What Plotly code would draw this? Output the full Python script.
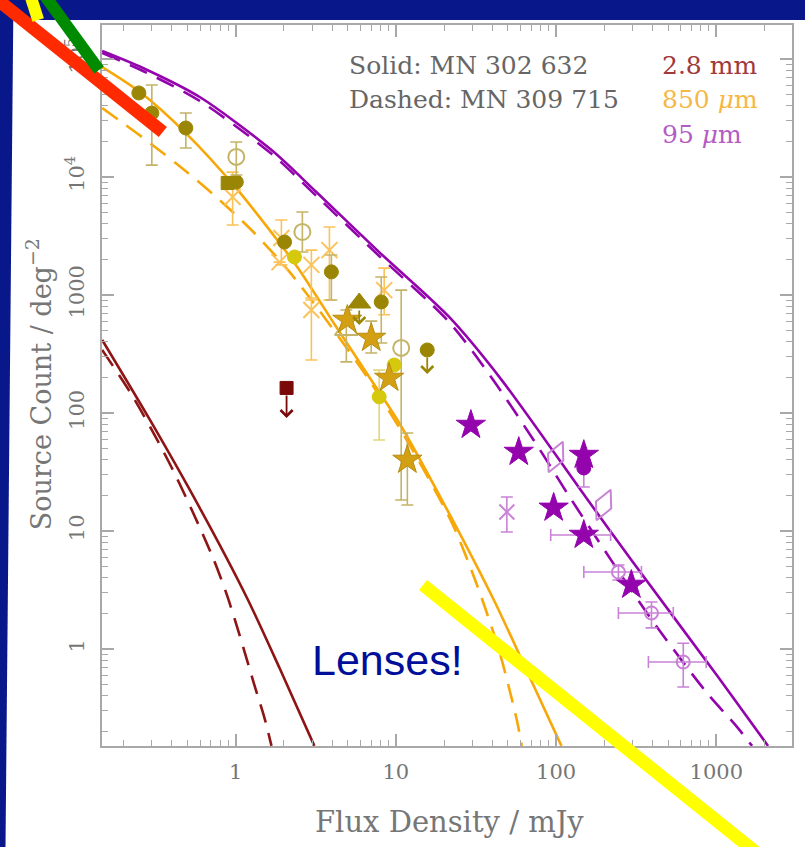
import math
import plotly.graph_objects as go

# ---------------- model counts: flux density (mJy) vs N(>S) (deg^-2) ----------------
flux_95_solid = [0.147, 0.264, 0.597, 1.675, 3.19, 7.87, 21.5, 45.8, 153, 295, 1027, 2104]
count_95_solid = [117000, 83900, 47600, 16900, 7460, 2310, 651, 190, 19.4, 5.68, 0.579, 0.151]
flux_95_dashed = [0.147, 0.264, 0.597, 1.675, 3.19, 7.87, 21.5, 39.7, 78.0, 125, 377, 865, 1330, 1672]
count_95_dashed = [112400, 79100, 44100, 15700, 6900, 2140, 590, 198, 50.5, 18.3, 1.94, 0.432, 0.223, 0.151]

flux_850_solid = [0.147, 0.253, 0.496, 0.958, 1.88, 2.50, 4.25, 6.82, 10.5, 19.4, 40.9, 67.5, 108]
count_850_solid = [85500, 52500, 23100, 8730, 2760, 1630, 535, 202, 82.3, 18.3, 2.60, 0.602, 0.151]
flux_850_dashed = [0.147, 0.198, 0.292, 0.496, 0.795, 1.31, 2.17, 3.84, 6.82, 12.1, 22.4, 32.1, 44.0, 56.9, 61.1]
count_850_dashed = [38400, 28700, 19400, 11000, 6380, 3350, 1570, 568, 190, 54.6, 11.7, 3.49, 0.981, 0.250, 0.151]

flux_28_solid = [0.147, 0.292, 0.597, 1.17, 1.88, 3.10]
count_28_solid = [416, 87.3, 15.7, 2.76, 0.690, 0.151]
flux_28_dashed = [0.147, 0.219, 0.305, 0.406, 0.540, 0.719, 0.879, 1.059, 1.31, 1.515, 1.675]
count_28_dashed = [342, 151, 69.0, 32.9, 14.5, 6.02, 2.92, 1.31, 0.495, 0.260, 0.151]

# ---------------- measured counts ----------------
# 850 um, olive filled circles
olive_flux = [0.249, 0.30, 0.489, 1.01, 2.02, 3.96, 8.11]
olive_count = [51500, 34800, 26000, 9070, 2810, 1570, 873]
olive_hi = [None, 60200, 34800, None, None, 2180, 1420]
olive_lo = [None, 12600, 17600, None, None, 908, 392]

# 850 um, olive filled square
square_flux = [0.892]
square_count = [8890]

# 850 um, olive open circles
ring_flux = [1.01, 2.61, 10.8]
ring_count = [14800, 3420, 356]
ring_hi = [19800, 5050, 1100]
ring_lo = [10400, 2310, 18.3]

# 850 um, open triangle
otri_flux = [4.91]
otri_count = [505]
otri_hi = [746]
otri_lo = [271]

# 850 um, yellow filled circles
yellow_flux = [2.33, 9.76, 7.87]
yellow_count = [2100, 255, 137]
yellow_hi = [None, None, 231]
yellow_lo = [None, None, 59]

# 850 um, gold stars
gold_flux = [4.98, 7.02, 9.08, 11.8]
gold_count = [614, 432, 198, 40]
gold_hi = [None, 600, None, 67.7]
gold_lo = [None, 322, None, 16.6]

# 850 um, orange crosses
cross_flux = [0.958, 1.93, 1.88, 2.97, 3.85, 2.97, 8.46]
cross_count = [6770, 3040, 1900, 1800, 2400, 746, 1100]
cross_hi = [11000, 4320, None, 2400, 3770, 944, 1690]
cross_lo = [3920, 1800, None, 908, 908, 281, 680]

# upper limits
ulim_olive_flux = [15.7]
ulim_olive_count = [342]
ulim_tri_flux = [5.91]
ulim_tri_count = [855]
ulim_28_flux = [2.08]
ulim_28_count = [163]

# 95 um points
p_star_flux = [29.4, 58.5, 149, 96.6, 149, 295]
p_star_count = [79.1, 46.7, 44.0, 15.7, 9.25, 3.49]
p_star_xhi = [None, None, None, None, 219, None]
p_star_xlo = [None, None, None, None, 92.6, None]

p_dot_flux = [149]
p_dot_count = [34.2]
p_dot_hi = [44.0]
p_dot_lo = [23.6]

p_diamond_flux = [99.5, 198]
p_diamond_count = [42.4, 16.6]

p_cross_flux = [49.3]
p_cross_count = [14.5]
p_cross_hi = [19.4]
p_cross_lo = [9.8]

p_ring_flux = [245, 394, 622]
p_ring_count = [4.49, 2.02, 0.776]
p_ring_hi = [5.15, 2.50, 1.12]
p_ring_lo = [3.84, 1.51, 0.477]
p_ring_xhi = [341, 539, 865]
p_ring_xlo = [149, 245, 377]

# axis ticks
x_tick_vals = [1, 10, 100, 1000]
x_tick_text = ["1", "10", "100", "1000"]
y_tick_vals = [1, 10, 100, 1000, 1e4, 1e5]
y_tick_text = ["1", "10", "100", "1000", "10<sup>4</sup>", "10<sup>5</sup>"]

# ---------------- styles ----------------
PURPLE = "#9404ad"
PURPLE_LIGHT = "#c983d6"
ORANGE = "#f7a808"
ORANGE_LIGHT = "#fcc25a"
DARKRED = "#8e1515"
OLIVE = "#9a8604"
OLIVE_LIGHT = "#c4b468"
YELLOW = "#d6c80c"
GOLD = "#d2a012"
NAVY = "#08188a"
SERIF = "DejaVu Serif, Liberation Serif, serif"
GREY = "#767676"
DASH = "19px,11px"

# plot frame in page pixels
L, R, T, B = 102, 794, 25, 746
W, H = 805, 847


def px(x):
    return (x - L) / (R - L)


def py(y):
    return (B - y) / (B - T)


def up_down(vals, hi, lo):
    up = [None if h is None else h - v for v, h in zip(vals, hi)]
    dn = [None if l is None else v - l for v, l in zip(vals, lo)]
    return up, dn


fig = go.Figure()


def curve(x, y, color, dash):
    fig.add_trace(go.Scatter(
        x=x, y=y, mode="lines", showlegend=False, hoverinfo="skip",
        line=dict(color=color, width=2.6, dash=dash, shape="spline", smoothing=0.8),
    ))


curve(flux_28_solid, count_28_solid, DARKRED, "solid")
curve(flux_28_dashed, count_28_dashed, DARKRED, DASH)
curve(flux_850_solid, count_850_solid, ORANGE, "solid")
curve(flux_850_dashed, count_850_dashed, ORANGE, DASH)
curve(flux_95_solid, count_95_solid, PURPLE, "solid")
curve(flux_95_dashed, count_95_dashed, PURPLE, DASH)


def points(x, y, symbol, size, fill, edge, edge_w=1.0, yhi=None, ylo=None,
           xhi=None, xlo=None, err_color=None, angle=0):
    kw = {}
    if yhi is not None:
        up, dn = up_down(y, yhi, ylo)
        kw["error_y"] = dict(type="data", symmetric=False, array=up, arrayminus=dn,
                             color=err_color, thickness=1.6, width=6)
    if xhi is not None:
        up, dn = up_down(x, xhi, xlo)
        kw["error_x"] = dict(type="data", symmetric=False, array=up, arrayminus=dn,
                             color=err_color, thickness=1.6, width=6)
    fig.add_trace(go.Scatter(
        x=x, y=y, mode="markers", showlegend=False, hoverinfo="skip",
        marker=dict(symbol=symbol, size=size, color=fill, angle=angle,
                    line=dict(color=edge, width=edge_w)),
        **kw,
    ))


points(cross_flux, cross_count, "x-thin-open", 16, ORANGE_LIGHT, ORANGE_LIGHT, 2,
       cross_hi, cross_lo, err_color=ORANGE_LIGHT)
points(olive_flux, olive_count, "circle", 14, OLIVE, OLIVE, 1,
       olive_hi, olive_lo, err_color=OLIVE_LIGHT)
points(square_flux, square_count, "square", 13, OLIVE, OLIVE)
points(ring_flux, ring_count, "circle-open", 16, OLIVE_LIGHT, "#a89a3a", 2,
       ring_hi, ring_lo, err_color=OLIVE_LIGHT)
points(otri_flux, otri_count, "triangle-up-open", 20, OLIVE_LIGHT, "#a89a3a", 2,
       otri_hi, otri_lo, err_color=OLIVE_LIGHT)
points(ulim_tri_flux, ulim_tri_count, "triangle-up", 20, OLIVE, OLIVE)
points(ulim_olive_flux, ulim_olive_count, "circle", 14, OLIVE, OLIVE)
points(yellow_flux, yellow_count, "circle", 14, YELLOW, YELLOW, 1,
       yellow_hi, yellow_lo, err_color="#e2d67a")
points(gold_flux, gold_count, "star", 22, GOLD, "#b88c10", 1,
       gold_hi, gold_lo, err_color=OLIVE_LIGHT)
points(ulim_28_flux, ulim_28_count, "square", 13, "#7a0a0a", "#7a0a0a")

points(p_cross_flux, p_cross_count, "x-thin-open", 15, PURPLE_LIGHT, PURPLE_LIGHT, 2,
       p_cross_hi, p_cross_lo, err_color=PURPLE_LIGHT)
points(p_diamond_flux, p_diamond_count, "diamond-tall-open", 24, PURPLE_LIGHT, "#a33cba", 2,
       angle=25)
points(p_dot_flux, p_dot_count, "circle", 14, PURPLE, PURPLE, 1,
       p_dot_hi, p_dot_lo, err_color=PURPLE_LIGHT)
points(p_ring_flux, p_ring_count, "circle-open", 13, PURPLE_LIGHT, "#a544bb", 2,
       p_ring_hi, p_ring_lo, p_ring_xhi, p_ring_xlo, err_color=PURPLE_LIGHT)
points(p_star_flux, p_star_count, "star", 22, PURPLE, PURPLE, 1,
       xhi=p_star_xhi, xlo=p_star_xlo, err_color=PURPLE_LIGHT)

# upper-limit arrows hanging below their markers
annotations = []
for fx, cy, col, drop in (
    (ulim_28_flux, ulim_28_count, "#7a0a0a", 30),
    (ulim_olive_flux, ulim_olive_count, OLIVE, 24),
    (ulim_tri_flux, ulim_tri_count, OLIVE, 22),
):
    for f, c in zip(fx, cy):
        annotations.append(dict(
            x=math.log10(f), y=math.log10(c), xref="x", yref="y", text="",
            showarrow=True, arrowhead=4, arrowsize=1.3, arrowwidth=1.8, arrowcolor=col,
            ax=0, ay=-(drop - 6), yshift=-drop, standoff=0, startstandoff=0,
        ))

# key text
key = [
    ("Solid: MN 302 632", 348, 66, "#666666"),
    ("Dashed: MN 309 715", 348, 100, "#666666"),
    ("2.8 mm", 662, 66, "#a03a3a"),
    ("850 <i>μ</i>m", 662, 100, "#f6b845"),
    ("95 <i>μ</i>m", 662, 134, "#b45cc4"),
]
for txt, x0, y0, col in key:
    annotations.append(dict(
        x=px(x0), y=py(y0), xref="paper", yref="paper", xanchor="left", yanchor="middle",
        text=txt, showarrow=False, font=dict(family=SERIF, size=25, color=col),
    ))

# axis titles
annotations.append(dict(
    x=px(451), y=py(822), xref="paper", yref="paper", xanchor="center", yanchor="middle",
    text="Flux Density / mJy", showarrow=False,
    font=dict(family=SERIF, size=29, color=GREY),
))
annotations.append(dict(
    x=px(38), y=py(384), xref="paper", yref="paper", xanchor="center", yanchor="middle",
    text="Source Count / deg<sup>−2</sup>", showarrow=False, textangle=-90,
    font=dict(family=SERIF, size=27, color=GREY),
))

# slide callout
annotations.append(dict(
    x=px(311), y=py(660), xref="paper", yref="paper", xanchor="left", yanchor="middle",
    text="Lenses!", showarrow=False,
    font=dict(family="Liberation Sans, Arial, sans-serif", size=43, color="#000f99"),
))

# slide background, white card and highlighter strokes
shapes = [
    dict(type="path", xref="paper", yref="paper", layer="below",
         path=f"M {px(13)} {py(20)} L {px(830)} {py(20)} L {px(830)} {py(870)} "
              f"L {px(5)} {py(870)} Z",
         fillcolor="white", line=dict(width=0)),
]


def stroke(x0, y0, x1, y1, color, width):
    shapes.append(dict(type="line", xref="paper", yref="paper", layer="above",
                       x0=px(x0), y0=py(y0), x1=px(x1), y1=py(y1),
                       line=dict(color=color, width=width)))


stroke(-10, -6, 163, 132, "#ff2a00", 13)
stroke(29, -8, 38, 20, "#ffff00", 12)
stroke(42, -8, 99, 70, "#008a00", 12)
stroke(424, 585, 775, 866, "#ffff00", 13)

minor_vals = [m * 10 ** e for e in range(-1, 6) for m in range(2, 10)]

axis_common = dict(
    type="log", showgrid=False, zeroline=False,
    showline=True, linecolor="#a8a8a8", linewidth=2, mirror="allticks",
    ticks="inside", ticklen=12, tickwidth=1.5, tickcolor="#a8a8a8",
    tickfont=dict(family=SERIF, size=21, color=GREY),
    minor=dict(tickmode="array", tickvals=minor_vals, ticks="inside", ticklen=6,
               tickwidth=1.2, tickcolor="#a8a8a8"),
)

fig.update_layout(
    width=W, height=H,
    margin=dict(l=L, r=W - R, t=T, b=H - B, pad=0),
    paper_bgcolor=NAVY, plot_bgcolor="white",
    xaxis=dict(range=[math.log10(0.1466), math.log10(2968)], tickmode="array",
               tickvals=x_tick_vals, ticktext=x_tick_text, ticklabelstandoff=6,
               **axis_common),
    yaxis=dict(range=[math.log10(0.1507), math.log10(194000)], tickmode="array",
               tickvals=y_tick_vals, ticktext=y_tick_text, tickangle=-90,
               ticklabelstandoff=8, **axis_common),
    shapes=shapes,
    annotations=annotations,
)

fig.write_html("out.html")
